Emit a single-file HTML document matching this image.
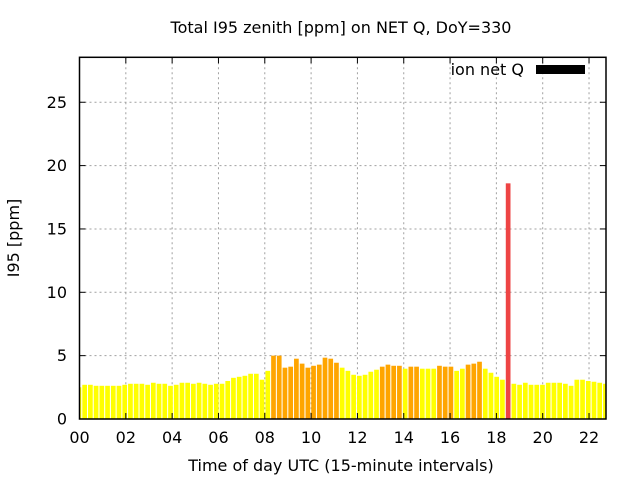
<!DOCTYPE html>
<html><head><meta charset="utf-8"><style>
html,body{margin:0;padding:0;background:#fff}
svg{display:block;font-family:"DejaVu Sans","Liberation Sans",sans-serif}
</style></head><body>
<svg id="chart" width="640" height="480" viewBox="0 0 640 480" xmlns="http://www.w3.org/2000/svg">
<rect x="0" y="0" width="640" height="480" fill="#fff"/>
<text x="341" y="33" font-size="16" text-anchor="middle" fill="#000">Total I95 zenith [ppm] on NET Q, DoY=330</text>
<g id="grid"></g>
<g id="bars"></g>
<g id="axes"></g>
<text x="341" y="471" font-size="16" text-anchor="middle" fill="#000">Time of day UTC (15-minute intervals)</text>
<text transform="translate(19,238) rotate(-90)" font-size="16" text-anchor="middle" fill="#000">I95 [ppm]</text>
<g>
<text x="524" y="75" font-size="16" text-anchor="end" fill="#000">ion net Q</text>
<rect x="536" y="65" width="49" height="9" fill="#000"/>
</g>
</svg>
<script>
const values = [2.5,2.7,2.7,2.62,2.62,2.62,2.62,2.62,2.7,2.78,2.78,2.78,2.7,2.86,2.78,2.78,2.62,2.7,2.86,2.86,2.78,2.86,2.78,2.7,2.78,2.78,3.0,3.25,3.33,3.41,3.57,3.57,3.1,3.8,5.0,5.0,4.05,4.13,4.76,4.37,4.05,4.2,4.29,4.84,4.76,4.44,4.05,3.8,3.49,3.41,3.49,3.73,3.89,4.13,4.29,4.2,4.2,3.97,4.13,4.13,3.97,3.97,3.97,4.2,4.13,4.13,3.8,3.97,4.29,4.37,4.52,3.97,3.65,3.33,3.1,18.6,2.78,2.7,2.86,2.7,2.7,2.7,2.86,2.86,2.86,2.78,2.62,3.1,3.1,3.0,2.94,2.86,2.78];
const levels = "YYYYYYYYYYYYYYYYYYYYYYYYYYYYYYYYYYOOOOOOOOOOOOYYYYYYYOOOOYOOYYYOOOYYOOOYYYYRYYYYYYYYYYYYYYYYY".split("");
const yTicks = [0,5,10,15,20,25];
const xTickHours = [0,2,4,6,8,10,12,14,16,18,20,22];
const xTickLabels = ["00","02","04","06","08","10","12","14","16","18","20","22"];
const colors = {Y:"#ffff00", O:"#ffa500", R:"#ee4444"};
const L=79.5, R=606, T=57.3, B=419;
const yMax = (B-T)/12.67;
const xMaxHour = 22.733;
function y(v){return B - v/yMax*(B-T);}
function xh(h){return L + h/xMaxHour*(R-L);}
function xi(i){return L + (i-0.1)/(values.length-1)*(R-L);}
const NS="http://www.w3.org/2000/svg";
function mk(tag, attrs, parent){const e=document.createElementNS(NS,tag);for(const k in attrs)e.setAttribute(k,attrs[k]);parent.appendChild(e);return e;}
const grid=document.getElementById('grid'), bars=document.getElementById('bars'), axes=document.getElementById('axes');
yTicks.forEach(v=>{
  if(v>0){const g=mk('line',{x1:L,x2:R,y1:y(v),y2:y(v),stroke:'#a0a0a0','stroke-width':1,'stroke-dasharray':'2,3'},grid);
  
  }
  const t=mk('text',{x:67,y:y(v)+5.5,'font-size':16,'text-anchor':'end',fill:'#000'},axes);t.textContent=v;
  
  
  mk('line',{x1:L,x2:L+6,y1:y(v),y2:y(v),stroke:'#000'},axes);
  mk('line',{x1:R,x2:R-6,y1:y(v),y2:y(v),stroke:'#000'},axes);
});
xTickHours.forEach((h,k)=>{
  const X=xh(h);
  if(h>0){const g=mk('line',{x1:X,x2:X,y1:T,y2:B,stroke:'#a0a0a0','stroke-width':1,'stroke-dasharray':'2,3'},grid);
  
  }
  const t=mk('text',{x:X,y:443,'font-size':16,'text-anchor':'middle',fill:'#000'},axes);t.textContent=xTickLabels[k];
  
  
  mk('line',{x1:X,x2:X,y1:B,y2:B-6,stroke:'#000'},axes);
  mk('line',{x1:X,x2:X,y1:T,y2:T+6,stroke:'#000'},axes);
});
const cp=mk('clipPath',{id:'pc'},document.getElementById('chart'));
mk('rect',{x:L,y:T,width:R-L,height:B-T},cp);
bars.setAttribute('clip-path','url(#pc)');
values.forEach((v,i)=>{
  const b=mk('rect',{x:xi(i)-2.35,y:y(v),width:4.7,height:B-y(v),fill:colors[levels[i]]},bars);
  
  
});
const f=mk('rect',{x:L,y:T,width:R-L,height:B-T,fill:'none',stroke:'#000','stroke-width':1.5},axes);


</script>
</body></html>
